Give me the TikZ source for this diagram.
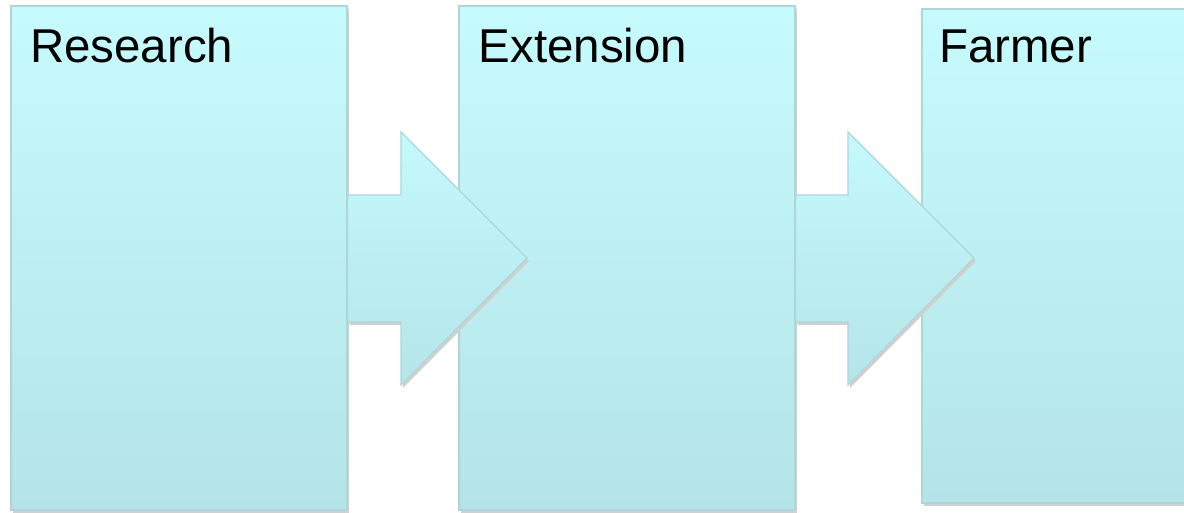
\documentclass[tikz,border=0pt]{standalone}
\usepackage{fontspec}
\setmainfont{Liberation Sans}
\usetikzlibrary{calc,shadows}
\definecolor{topc}{RGB}{198,251,253}
\definecolor{botc}{RGB}{180,228,232}
\definecolor{edgec}{RGB}{174,214,218}
\definecolor{shadowc}{RGB}{208,208,208}
\begin{document}
\begin{tikzpicture}[x=1pt,y=-1pt,
  panel/.style={rectangle, inner sep=0pt, top color=topc, bottom color=botc,
    draw=edgec, line width=1.2pt,
    drop shadow={shadow xshift=2pt, shadow yshift=-3pt, fill=shadowc, opacity=1}},
  blockarrow/.style={top color=topc!92!botc, bottom color=botc!96!topc,
    draw=edgec, line width=1.2pt, line join=miter,
    drop shadow={shadow xshift=2pt, shadow yshift=-3pt, fill=shadowc, opacity=1}},
  lbl/.style={inner sep=0pt, font=\fontsize{47.5}{52}\selectfont, text=black}]
\useasboundingbox (0,0) rectangle (1184,512);
\clip (0,0) rectangle (1184,512);
\fill[white] (0,0) rectangle (1184,512);
% boxes
\node[panel, minimum width=336pt, minimum height=504pt] (research) at (179,258) {};
\node[panel, minimum width=336pt, minimum height=504pt] (extension) at (627,258) {};
% arrow 1
\path[blockarrow] ($(research.east)+(0,-63)$) -- (401,195) -- (401,132) -- (527,258)
  -- (401,385) -- (401,322) -- ($(research.east)+(0,64)$) -- cycle;
\node[panel, minimum width=336pt, minimum height=494pt] (farmer) at (1090,256) {};
% arrow 2
\path[blockarrow] ($(extension.east)+(0,-63)$) -- (848,195) -- (848,132) -- (974,258)
  -- (848,385) -- (848,322) -- ($(extension.east)+(0,64)$) -- cycle;
% labels
\node[lbl, anchor=base west] (researchlbl) at ($(research.north west)+(19.5,57)$) {Research};
\node[lbl, anchor=base west] (extensionlbl) at ($(extension.north west)+(20,57)$) {Extension};
\node[lbl, anchor=base west] (farmerlbl) at ($(farmer.north west)+(17.5,54)$) {Farmer};
\end{tikzpicture}
\end{document}
